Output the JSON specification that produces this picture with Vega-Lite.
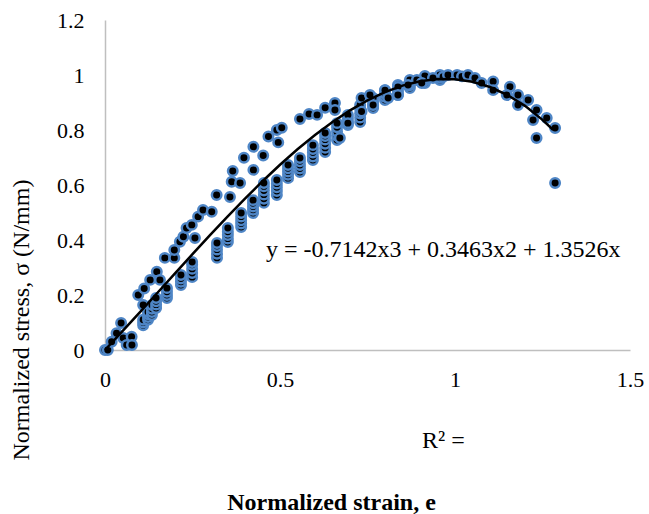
{
  "$schema": "https://vega.github.io/schema/vega-lite/v6.json",
  "autosize": {"type": "none"},
  "padding": {"left": 105, "top": 20, "right": 19, "bottom": 164},
  "width": 525,
  "height": 330,
  "background": "white",
  "config": {
    "view": {"stroke": null},
    "font": "Liberation Serif"
  },
  "datasets": {
    "pts": [
      {"x": 0.0, "y": 0.0}, {"x": 0.008, "y": 0.0}, {"x": 0.019, "y": 0.03}, {"x": 0.033, "y": 0.061},
      {"x": 0.046, "y": 0.098}, {"x": 0.052, "y": 0.044}, {"x": 0.062, "y": 0.018}, {"x": 0.076, "y": 0.048},
      {"x": 0.077, "y": 0.018}, {"x": 0.095, "y": 0.2}, {"x": 0.109, "y": 0.164}, {"x": 0.112, "y": 0.224},
      {"x": 0.129, "y": 0.255}, {"x": 0.148, "y": 0.285}, {"x": 0.157, "y": 0.255}, {"x": 0.171, "y": 0.335},
      {"x": 0.198, "y": 0.335}, {"x": 0.198, "y": 0.364}, {"x": 0.214, "y": 0.394}, {"x": 0.224, "y": 0.412},
      {"x": 0.233, "y": 0.444}, {"x": 0.248, "y": 0.455}, {"x": 0.257, "y": 0.407}, {"x": 0.266, "y": 0.485},
      {"x": 0.28, "y": 0.509}, {"x": 0.305, "y": 0.503}, {"x": 0.319, "y": 0.564}, {"x": 0.357, "y": 0.556},
      {"x": 0.362, "y": 0.612}, {"x": 0.365, "y": 0.651}, {"x": 0.386, "y": 0.607}, {"x": 0.397, "y": 0.699},
      {"x": 0.424, "y": 0.739}, {"x": 0.424, "y": 0.655}, {"x": 0.452, "y": 0.707}, {"x": 0.467, "y": 0.776},
      {"x": 0.491, "y": 0.8}, {"x": 0.495, "y": 0.755}, {"x": 0.505, "y": 0.808}, {"x": 0.557, "y": 0.84},
      {"x": 0.583, "y": 0.858}, {"x": 0.606, "y": 0.855}, {"x": 0.629, "y": 0.881}, {"x": 0.657, "y": 0.898},
      {"x": 0.657, "y": 0.873},
      {"x": 0.109, "y": 0.09}, {"x": 0.109, "y": 0.1}, {"x": 0.109, "y": 0.11},
      {"x": 0.123, "y": 0.11}, {"x": 0.123, "y": 0.12}, {"x": 0.123, "y": 0.13}, {"x": 0.123, "y": 0.138},
      {"x": 0.134, "y": 0.127}, {"x": 0.134, "y": 0.138}, {"x": 0.134, "y": 0.15}, {"x": 0.134, "y": 0.164},
      {"x": 0.146, "y": 0.153}, {"x": 0.146, "y": 0.165}, {"x": 0.146, "y": 0.177}, {"x": 0.146, "y": 0.189},
      {"x": 0.177, "y": 0.189}, {"x": 0.177, "y": 0.2}, {"x": 0.177, "y": 0.212}, {"x": 0.177, "y": 0.225},
      {"x": 0.217, "y": 0.236}, {"x": 0.217, "y": 0.248}, {"x": 0.217, "y": 0.26}, {"x": 0.217, "y": 0.273},
      {"x": 0.249, "y": 0.265}, {"x": 0.249, "y": 0.28}, {"x": 0.249, "y": 0.295}, {"x": 0.249, "y": 0.31}, {"x": 0.249, "y": 0.32},
      {"x": 0.32, "y": 0.335}, {"x": 0.32, "y": 0.35}, {"x": 0.32, "y": 0.365}, {"x": 0.32, "y": 0.378}, {"x": 0.32, "y": 0.389},
      {"x": 0.351, "y": 0.393}, {"x": 0.351, "y": 0.405}, {"x": 0.351, "y": 0.418}, {"x": 0.351, "y": 0.43}, {"x": 0.351, "y": 0.444},
      {"x": 0.389, "y": 0.447}, {"x": 0.389, "y": 0.46}, {"x": 0.389, "y": 0.472}, {"x": 0.389, "y": 0.485}, {"x": 0.389, "y": 0.498},
      {"x": 0.423, "y": 0.498}, {"x": 0.423, "y": 0.51}, {"x": 0.423, "y": 0.522}, {"x": 0.423, "y": 0.534}, {"x": 0.423, "y": 0.545},
      {"x": 0.454, "y": 0.535}, {"x": 0.454, "y": 0.55}, {"x": 0.454, "y": 0.565}, {"x": 0.454, "y": 0.58}, {"x": 0.454, "y": 0.595}, {"x": 0.454, "y": 0.607},
      {"x": 0.491, "y": 0.564}, {"x": 0.491, "y": 0.578}, {"x": 0.491, "y": 0.592}, {"x": 0.491, "y": 0.605}, {"x": 0.491, "y": 0.618},
      {"x": 0.523, "y": 0.625}, {"x": 0.523, "y": 0.637}, {"x": 0.523, "y": 0.649}, {"x": 0.523, "y": 0.661}, {"x": 0.523, "y": 0.673},
      {"x": 0.557, "y": 0.647}, {"x": 0.557, "y": 0.66}, {"x": 0.557, "y": 0.673}, {"x": 0.557, "y": 0.686}, {"x": 0.557, "y": 0.698},
      {"x": 0.594, "y": 0.691}, {"x": 0.594, "y": 0.704}, {"x": 0.594, "y": 0.718}, {"x": 0.594, "y": 0.731}, {"x": 0.594, "y": 0.745},
      {"x": 0.629, "y": 0.72}, {"x": 0.629, "y": 0.735}, {"x": 0.629, "y": 0.75}, {"x": 0.629, "y": 0.765}, {"x": 0.629, "y": 0.778}, {"x": 0.629, "y": 0.789},
      {"x": 0.663, "y": 0.764}, {"x": 0.663, "y": 0.779}, {"x": 0.663, "y": 0.794}, {"x": 0.663, "y": 0.81}, {"x": 0.663, "y": 0.825},
      {"x": 0.694, "y": 0.818}, {"x": 0.694, "y": 0.83}, {"x": 0.694, "y": 0.843}, {"x": 0.694, "y": 0.855},
      {"x": 0.729, "y": 0.829}, {"x": 0.729, "y": 0.845}, {"x": 0.729, "y": 0.86}, {"x": 0.729, "y": 0.876}, {"x": 0.729, "y": 0.891},
      {"x": 0.766, "y": 0.88}, {"x": 0.766, "y": 0.892}, {"x": 0.766, "y": 0.904}, {"x": 0.766, "y": 0.916},
      {"x": 0.8, "y": 0.909}, {"x": 0.8, "y": 0.921}, {"x": 0.8, "y": 0.933}, {"x": 0.8, "y": 0.945},
      {"x": 0.837, "y": 0.927}, {"x": 0.837, "y": 0.94}, {"x": 0.837, "y": 0.952}, {"x": 0.837, "y": 0.964},
      {"x": 0.871, "y": 0.953}, {"x": 0.871, "y": 0.963}, {"x": 0.871, "y": 0.973}, {"x": 0.871, "y": 0.982},
      {"x": 0.914, "y": 0.971}, {"x": 0.914, "y": 0.98}, {"x": 0.914, "y": 0.989}, {"x": 0.914, "y": 0.996},
      {"x": 0.957, "y": 0.982}, {"x": 0.957, "y": 0.99}, {"x": 0.957, "y": 1.0},
      {"x": 0.671, "y": 0.771}, {"x": 0.694, "y": 0.825}, {"x": 0.733, "y": 0.867}, {"x": 0.733, "y": 0.916},
      {"x": 0.757, "y": 0.927}, {"x": 0.766, "y": 0.891}, {"x": 0.8, "y": 0.945}, {"x": 0.809, "y": 0.916},
      {"x": 0.837, "y": 0.956}, {"x": 0.837, "y": 0.927}, {"x": 0.866, "y": 0.964}, {"x": 0.891, "y": 0.982},
      {"x": 0.905, "y": 0.971}, {"x": 0.937, "y": 0.989}, {"x": 0.966, "y": 0.994}, {"x": 0.98, "y": 1.0},
      {"x": 1.006, "y": 1.0}, {"x": 1.02, "y": 0.995}, {"x": 1.037, "y": 1.0}, {"x": 1.057, "y": 0.989},
      {"x": 1.076, "y": 0.971}, {"x": 1.109, "y": 0.976}, {"x": 1.109, "y": 0.945}, {"x": 1.157, "y": 0.957},
      {"x": 1.148, "y": 0.927}, {"x": 1.18, "y": 0.927}, {"x": 1.18, "y": 0.891}, {"x": 1.209, "y": 0.909},
      {"x": 1.233, "y": 0.873}, {"x": 1.223, "y": 0.836}, {"x": 1.262, "y": 0.844}, {"x": 1.286, "y": 0.807},
      {"x": 1.233, "y": 0.771}, {"x": 1.286, "y": 0.607}
    ],
    "fit": [
      {"x": 0.0, "y": 0.0}, {"x": 0.05, "y": 0.0684}, {"x": 0.1, "y": 0.138}, {"x": 0.15, "y": 0.2083},
      {"x": 0.2, "y": 0.2787}, {"x": 0.25, "y": 0.3486}, {"x": 0.3, "y": 0.4177}, {"x": 0.35, "y": 0.4852},
      {"x": 0.4, "y": 0.5507}, {"x": 0.45, "y": 0.6137}, {"x": 0.5, "y": 0.6736}, {"x": 0.55, "y": 0.7299},
      {"x": 0.6, "y": 0.782}, {"x": 0.65, "y": 0.8294}, {"x": 0.7, "y": 0.8715}, {"x": 0.75, "y": 0.9079},
      {"x": 0.8, "y": 0.938}, {"x": 0.85, "y": 0.9613}, {"x": 0.9, "y": 0.9772}, {"x": 0.95, "y": 0.9852},
      {"x": 1.0, "y": 0.9847}, {"x": 1.05, "y": 0.9753}, {"x": 1.1, "y": 0.9563}, {"x": 1.15, "y": 0.9273},
      {"x": 1.2, "y": 0.8877}, {"x": 1.25, "y": 0.8369}, {"x": 1.28, "y": 0.8009}
    ],
    "notes": [
      {"x": 0.46, "y": 0.364, "text": "y = -0.7142x3 + 0.3463x2 + 1.3526x"},
      {"x": 0.906, "y": -0.33, "text": "R² ="}
    ],
    "ytitle": [
      {"x": -0.217, "y": 0.109, "text": "Normalized stress, σ (N/mm)"}
    ]
  },
  "layer": [
    {
      "data": {"name": "pts"},
      "mark": {"type": "point", "shape": "circle", "filled": true, "fill": "black", "stroke": "#4f86c6", "strokeWidth": 2.5, "size": 90, "opacity": 1, "fillOpacity": 1},
      "encoding": {
        "x": {
          "field": "x", "type": "quantitative",
          "scale": {"domain": [0, 1.5], "nice": false},
          "axis": {
            "values": [0, 0.5, 1, 1.5], "format": "~g", "grid": false, "ticks": false,
            "domainColor": "#bfbfbf", "domainWidth": 1.5,
            "labelFont": "Liberation Serif", "labelFontSize": 22, "labelColor": "black", "labelPadding": 19,
            "labelFlush": false, "labelOverlap": false,
            "title": "Normalized strain, e", "titleFont": "Liberation Serif", "titleFontSize": 24,
            "titleFontWeight": "bold", "titleColor": "black",
            "titleX": 226, "titleY": 152, "titleAlign": "center", "titleBaseline": "middle"
          }
        },
        "y": {
          "field": "y", "type": "quantitative",
          "scale": {"domain": [0, 1.2], "nice": false},
          "axis": {
            "values": [0, 0.2, 0.4, 0.6, 0.8, 1, 1.2], "format": "~g", "grid": false, "ticks": false,
            "domainColor": "#bfbfbf", "domainWidth": 1.5,
            "labelFont": "Liberation Serif", "labelFontSize": 22, "labelColor": "black", "labelPadding": 21,
            "labelFlush": false, "labelOverlap": false,
            "title": null
          }
        }
      }
    },
    {
      "data": {"name": "fit"},
      "mark": {"type": "line", "color": "black", "strokeWidth": 2.5},
      "encoding": {
        "x": {"field": "x", "type": "quantitative"},
        "y": {"field": "y", "type": "quantitative"}
      }
    },
    {
      "data": {"name": "notes"},
      "mark": {"type": "text", "align": "left", "baseline": "middle", "font": "Liberation Serif", "fontSize": 24, "color": "black", "clip": false},
      "encoding": {
        "x": {"field": "x", "type": "quantitative"},
        "y": {"field": "y", "type": "quantitative"},
        "text": {"field": "text"}
      }
    },
    {
      "data": {"name": "ytitle"},
      "mark": {"type": "text", "align": "center", "baseline": "alphabetic", "angle": 270, "font": "Liberation Serif", "fontSize": 24, "color": "black", "clip": false},
      "encoding": {
        "x": {"field": "x", "type": "quantitative"},
        "y": {"field": "y", "type": "quantitative"},
        "text": {"field": "text"}
      }
    }
  ]
}
